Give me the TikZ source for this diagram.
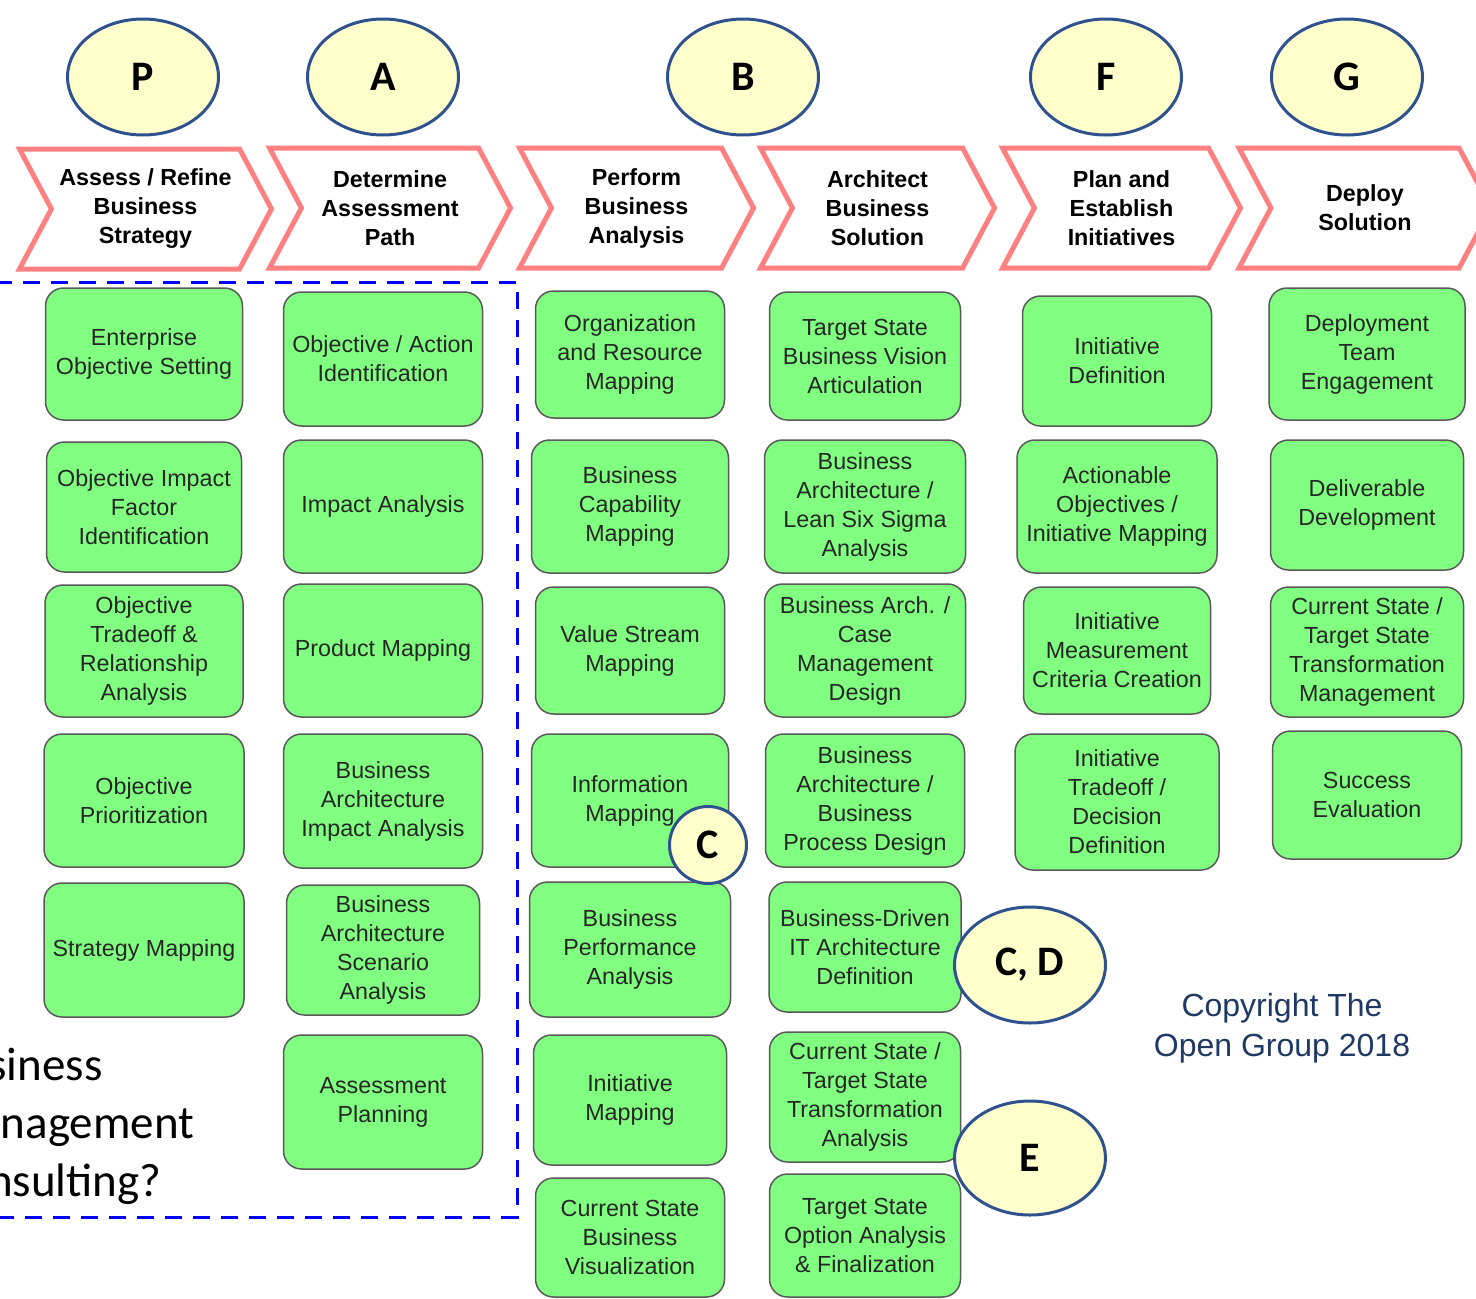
\documentclass[tikz,border=0pt]{standalone}
\usepackage{fontspec}
\setmainfont{Liberation Sans}
\newfontfamily\calib{Carlito}
\usepackage{xcolor}
\definecolor{boxgreen}{RGB}{128,255,128}
\definecolor{phasered}{RGB}{255,128,128}
\definecolor{tagfill}{RGB}{255,255,204}
\definecolor{tagline}{RGB}{47,82,143}
\definecolor{scopeblue}{RGB}{0,0,255}
\definecolor{copyblue}{RGB}{31,56,100}
\usepackage{tikz}
\usetikzlibrary{positioning,shapes.geometric,shapes.symbols}
\tikzset{
  task/.style={draw=black!65,fill=boxgreen,rounded corners=18pt,line width=1.5pt,%
    font=\fontsize{23.3}{29}\selectfont,text=black!85,inner sep=2pt,align=center},
  sz/.style 2 args={minimum width=#1pt,minimum height=#2pt},
  phase/.style={signal,signal to=east,signal from=west,signal pointer angle=124,%
    draw=phasered,line width=5pt,fill=white,font=\fontsize{23.3}{29}\selectfont\bfseries,%
    align=center,minimum height=120pt,inner sep=0pt},
  tag/.style={ellipse,draw=tagline,line width=3pt,fill=tagfill,%
    font=\calib\fontsize{42}{42}\selectfont\bfseries,inner sep=0pt,%
    minimum width=151pt,minimum height=116pt},
}
\begin{document}
\begin{tikzpicture}[x=1pt,y=-1pt]
\useasboundingbox (0,0) rectangle (1476,1299);
% phases
\node[phase,minimum width=252pt] (ph1) at (145.5,209) {Assess / Refine\\Business\\Strategy};
\node[phase,minimum width=241pt] (ph2) at (390,208) {Determine\\Assessment\\Path};
\node[phase,minimum width=234pt] (ph3) at (636.5,208) {Perform\\Business\\Analysis};
\node[phase,minimum width=234pt] (ph4) at (877.5,208) {Architect\\Business\\Solution};
\node[phase,minimum width=238pt] (ph5) at (1121.5,208) {Plan and\\Establish\\Initiatives};
\node[phase,minimum width=252pt] (ph6) at (1365,208) {Deploy\\Solution};
% consulting scope
\draw[scopeblue,line width=3pt,dash pattern=on 17pt off 11pt] (-20,282) rectangle (517,1217);
\node[anchor=north west,inner sep=0pt,align=left,font=\calib\fontsize{47}{58}\selectfont] (bmc)
  at (-62,1048) {Business\\Management\\Consulting?};
% column 1
\node[task,sz={197}{132}] (c1a) at (144,354) {Enterprise\\Objective Setting};
\node[task,sz={195}{130},below=20.5pt of c1a] (c1b) {Objective Impact\\Factor\\Identification};
\node[task,sz={198}{132},below=11.5pt of c1b] (c1c) {Objective\\Tradeoff \&\\Relationship\\Analysis};
\node[task,sz={200}{133},below=15.5pt of c1c] (c1d) {Objective\\Prioritization};
\node[task,sz={200}{134},below=14.5pt of c1d] (c1e) {Strategy Mapping};
% column 2
\node[task,sz={199}{134}] (c2a) at (383,359) {Objective / Action\\Identification};
\node[task,sz={199}{133},below=12.5pt of c2a] (c2b) {Impact Analysis};
\node[task,sz={199}{133},below=9.5pt of c2b] (c2c) {Product Mapping};
\node[task,sz={199}{134},below=15.5pt of c2c] (c2d) {Business\\Architecture\\Impact Analysis};
\node[task,sz={193}{130},below=15.5pt of c2d] (c2e) {Business\\Architecture\\Scenario\\Analysis};
\node[task,sz={199}{134},below=18.5pt of c2e] (c2f) {Assessment\\Planning};
% column 3
\node[task,sz={189}{127}] (c3a) at (630,354.5) {Organization\\and Resource\\Mapping};
\node[task,sz={197}{133},below=20.5pt of c3a] (c3b) {Business\\Capability\\Mapping};
\node[task,sz={189}{127},below=12.5pt of c3b] (c3c) {Value Stream\\Mapping};
\node[task,sz={197}{133},below=18.5pt of c3c] (c3d) {Information\\Mapping};
\node[task,sz={201}{135},below=13.5pt of c3d] (c3e) {Business\\Performance\\Analysis};
\node[task,sz={193}{130},below=16.5pt of c3e] (c3f) {Initiative\\Mapping};
\node[task,sz={189}{119},below=11.5pt of c3f] (c3g) {Current State\\Business\\Visualization};
% column 4
\node[task,sz={191}{128}] (c4a) at (865,356) {Target State\\Business Vision\\Articulation};
\node[task,sz={201}{133},below=18.5pt of c4a] (c4b) {Business\\Architecture /\\Lean Six Sigma\\Analysis};
\node[task,sz={201}{133},below=9.5pt of c4b] (c4c) {Business Arch. /\\Case\\Management\\Design};
\node[task,sz={199}{133},below=15.5pt of c4c] (c4d) {Business\\Architecture /\\Business\\Process Design};
\node[task,sz={192}{130},below=13.5pt of c4d] (c4e) {Business-Driven\\IT Architecture\\Definition};
\node[task,sz={191}{130},below=18.5pt of c4e] (c4f) {Current State /\\Target State\\Transformation\\Analysis};
\node[task,sz={191}{123},below=10.5pt of c4f] (c4g) {Target State\\Option Analysis\\\& Finalization};
% column 5
\node[task,sz={189}{130}] (c5a) at (1117,361) {Initiative\\Definition};
\node[task,sz={200}{133},below=12.5pt of c5a] (c5b) {Actionable\\Objectives /\\Initiative Mapping};
\node[task,sz={187}{127},below=12.5pt of c5b] (c5c) {Initiative\\Measurement\\Criteria Creation};
\node[task,sz={204}{136},below=18.5pt of c5c] (c5d) {Initiative\\Tradeoff /\\Decision\\Definition};
% column 6
\node[task,sz={196}{132}] (c6a) at (1367,354) {Deployment\\Team\\Engagement};
\node[task,sz={193}{130},below=18.5pt of c6a] (c6b) {Deliverable\\Development};
\node[task,sz={193}{130},below=15.5pt of c6b] (c6c) {Current State /\\Target State\\Transformation\\Management};
\node[task,sz={189}{128},below=12.5pt of c6c] (c6d) {Success\\Evaluation};
% tags
\node[tag] (tp) at (143,77) {P};
\node[tag] (ta) at (383,77) {A};
\node[tag] (tb) at (743,77) {B};
\node[tag] (tf) at (1106,77) {F};
\node[tag] (tg) at (1347,77) {G};
\node[tag,minimum width=77pt,minimum height=77pt] (tc) at (708,845) {C};
\node[tag] (tcd) at (1030,965) {C, D};
\node[tag,minimum height=114pt] (te) at (1030,1158) {E};
\node[font=\fontsize{32}{40}\selectfont,text=copyblue,align=center] (copy)
  at (1282,1028) {Copyright The\\Open Group 2018};
\end{tikzpicture}
\end{document}
